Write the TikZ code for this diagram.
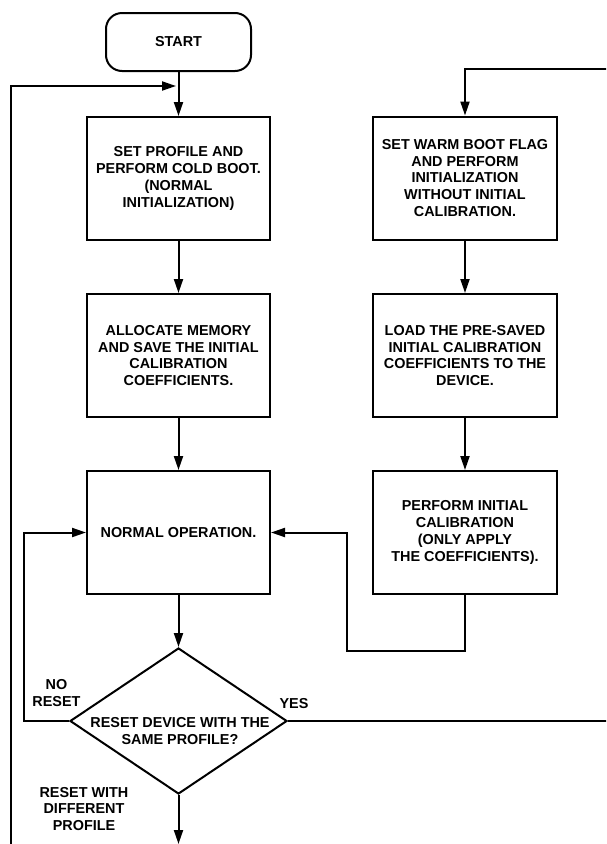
\documentclass[tikz,border=0pt]{standalone}
\usepackage{fontspec}
\setmainfont{Liberation Sans}
\usetikzlibrary{arrows.meta,shapes.geometric}
\begin{document}
\begin{tikzpicture}[x=1pt,y=-1pt,
  every node/.style={font=\fontsize{14.4}{16.8}\selectfont\bfseries},
  line/.style={line width=2pt,draw=black},
  arr/.style={line, -{Triangle[length=14pt,width=9pt]}},
  stepbox/.style={draw, line width=2pt, minimum width=183pt, minimum height=123pt, align=center, inner sep=2pt},
  startbox/.style={draw, line width=2pt, rounded corners=16pt, minimum width=145pt, minimum height=58pt, inner sep=2pt},
  dia/.style={draw, line width=2pt, diamond, minimum width=217pt, minimum height=146pt, inner sep=0pt},
  lbl/.style={align=center, inner sep=0pt}]
\useasboundingbox (0,0) rectangle (606,844);
\clip (0,0) rectangle (606,844);

% nodes
\node[startbox] (st) at (178.5,42) {START};
\node[stepbox] (b1) at (178.5,178.5) {SET PROFILE AND\\PERFORM COLD BOOT.\\(NORMAL\\INITIALIZATION)};
\node[stepbox] (b2) at (178.5,355.5) {ALLOCATE MEMORY\\AND SAVE THE INITIAL\\CALIBRATION\\COEFFICIENTS.};
\node[stepbox] (b3) at (178.5,532.5) {NORMAL OPERATION.};
\node[dia] (d) at (178.5,721) {};
\node[lbl] (dt) at (180,731) {RESET DEVICE WITH THE\\SAME PROFILE?};

\node[stepbox, minimum width=184pt] (b4) at (465,178) {SET WARM BOOT FLAG\\AND PERFORM\\INITIALIZATION\\WITHOUT INITIAL\\CALIBRATION.};
\node[stepbox, minimum width=184pt] (b5) at (465,355.5) {LOAD THE PRE-SAVED\\INITIAL CALIBRATION\\COEFFICIENTS TO THE\\DEVICE.};
\node[stepbox, minimum width=184pt] (b6) at (465,532.5) {PERFORM INITIAL\\CALIBRATION\\(ONLY APPLY\\THE COEFFICIENTS).};

\node[lbl] (lno) at (56.5,693) {NO\\RESET};
\node[lbl] (lyes) at (294,704) {YES};
\node[lbl] (ldiff) at (84,809) {RESET WITH\\DIFFERENT\\PROFILE};

% helper coordinates
\coordinate (lbot) at (11,850);
\coordinate (ltop) at (11,86);
\coordinate (ljoin) at (176,86);
\coordinate (rtop) at (612,69);
\coordinate (rl) at (347,651);
\coordinate (bend) at (178.5,844);

% connectors
\draw[arr] (st.south) -- (b1.north);
\draw[arr] (lbot) -- (ltop) -- (ljoin);
\draw[arr] (b1.south) -- (b2.north);
\draw[arr] (b2.south) -- (b3.north);
\draw[arr] (b3.south) -- (d.north);
\draw[arr] (d.west) -- ++(-45,0) |- (b3.west);
\draw[arr] (d.south) -- (bend);
\draw[arr] (d.east) -- (d.east -| rtop) -- (rtop) -| (b4.north);
\draw[arr] (b4.south) -- (b5.north);
\draw[arr] (b5.south) -- (b6.north);
\draw[arr] (b6.south) |- (rl) |- (b3.east);
\end{tikzpicture}
\end{document}
